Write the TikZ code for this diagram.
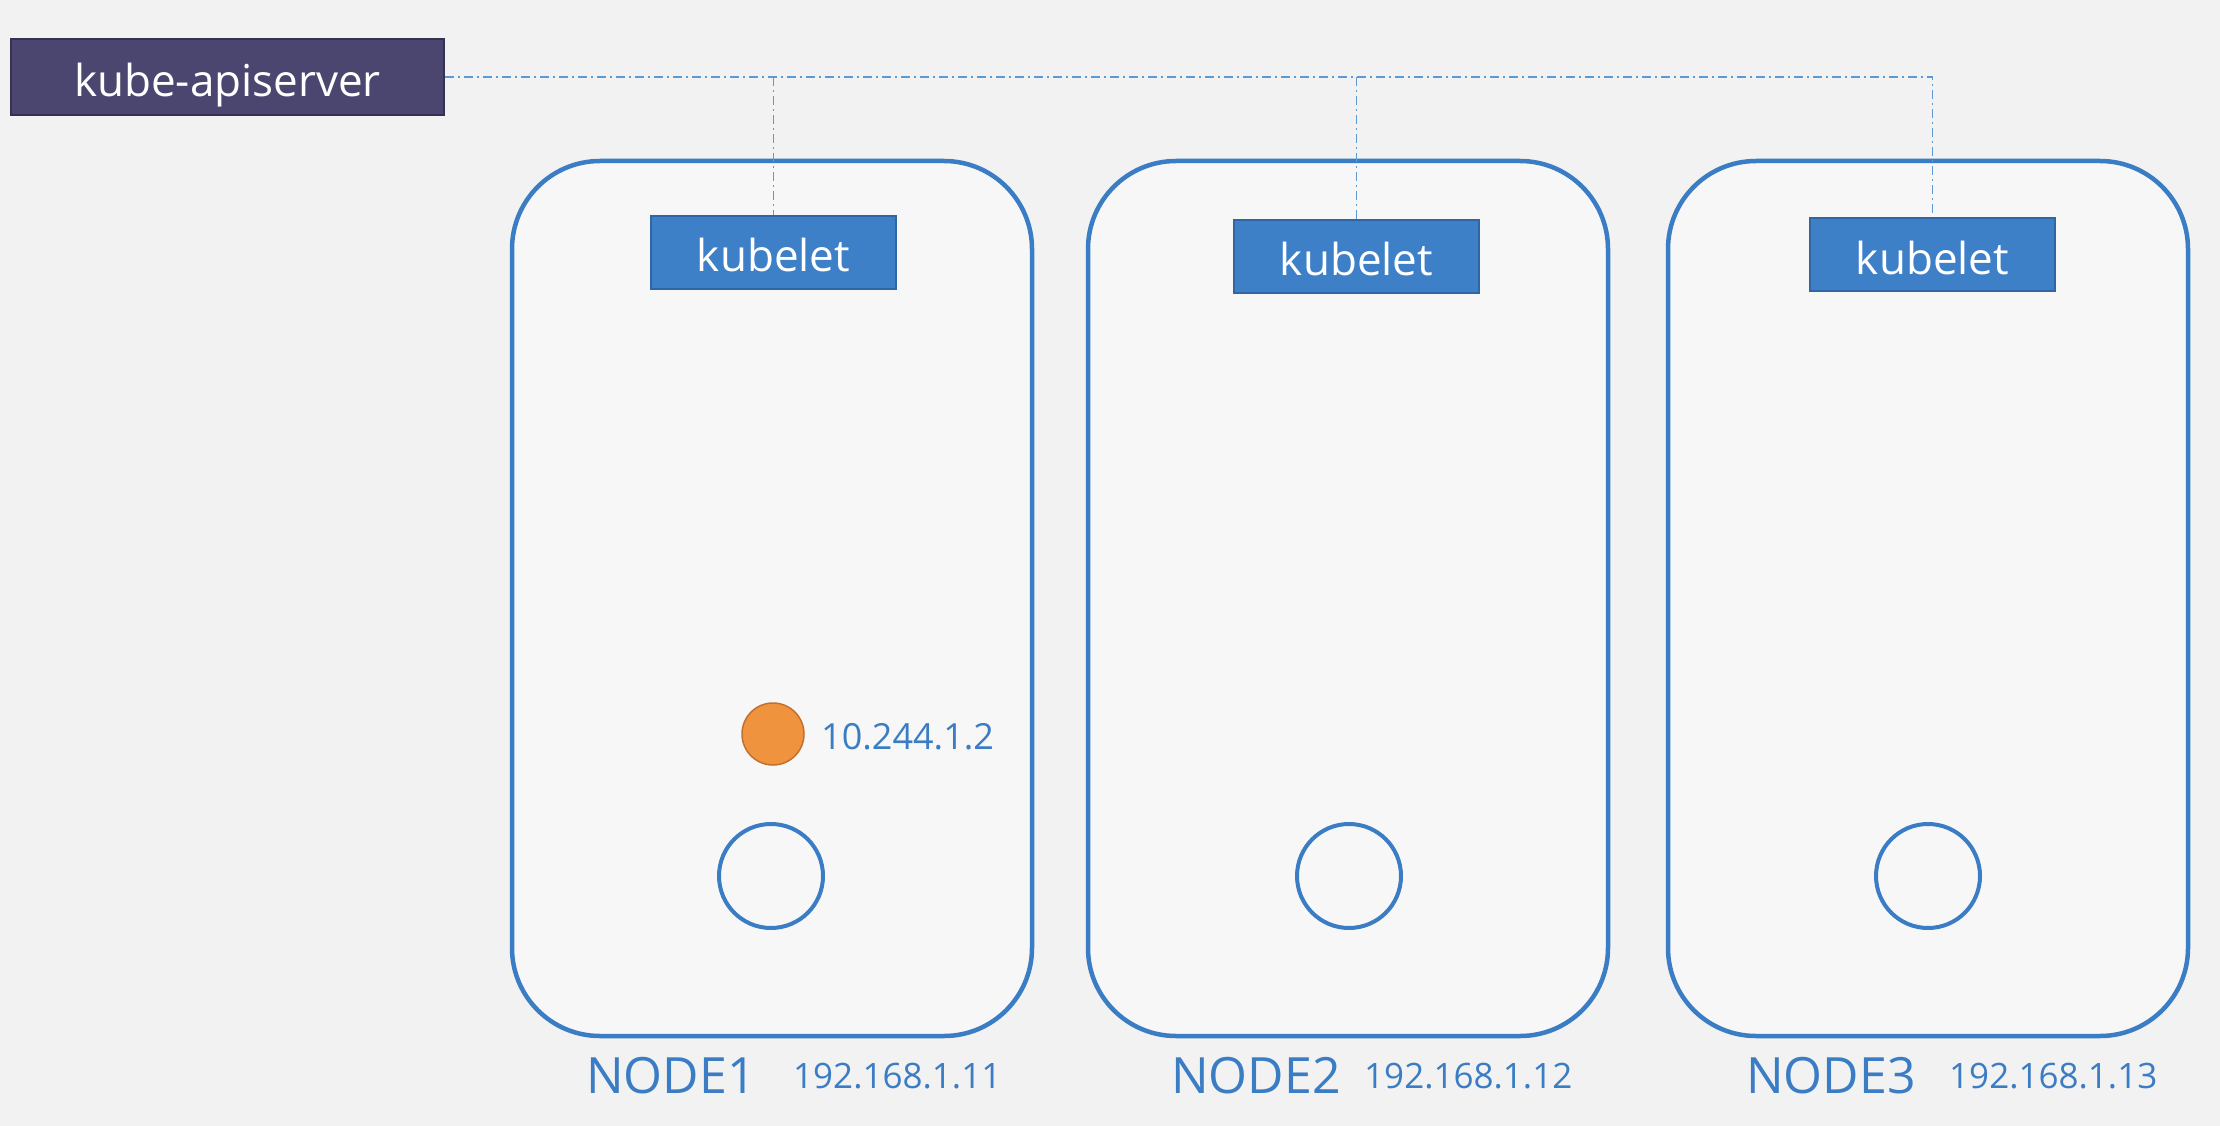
\documentclass[tikz,border=0pt]{standalone}
\usepackage{fontspec}
\setmainfont{Open Sans}
\definecolor{bg}{HTML}{F2F2F2}
\definecolor{inner}{HTML}{F7F7F7}
\definecolor{kblue}{HTML}{3B7DC4}
\definecolor{kfill}{HTML}{3D80C8}
\definecolor{kedge}{HTML}{2F66A3}
\definecolor{apifill}{HTML}{4A4670}
\definecolor{apiedge}{HTML}{35324F}
\definecolor{linkblue}{HTML}{5B9BD5}
\definecolor{podfill}{HTML}{F0933F}
\definecolor{podedge}{HTML}{C2702E}
\tikzset{
  hostbox/.style={draw=kblue, line width=4.5pt, fill=inner, rounded corners=88pt,
    minimum width=520pt, minimum height=875pt, inner sep=0pt},
  kubeletbox/.style={draw=kedge, line width=2pt, fill=kfill, text=white,
    minimum width=245pt, minimum height=73pt, inner sep=0pt,
    text height=39pt, text depth=0pt,
    font=\fontsize{44}{44}\selectfont},
  apibox/.style={draw=apiedge, line width=2pt, fill=apifill, text=white,
    minimum width=433pt, minimum height=76pt, inner sep=0pt,
    text height=40pt, text depth=0pt,
    font=\fontsize{44}{44}\selectfont},
  link/.style={draw=linkblue, line width=1.6pt, dash pattern=on 9pt off 4pt on 2pt off 4pt},
  podcircle/.style={circle, draw=kblue, line width=4pt, minimum size=104pt, inner sep=0pt},
  poddot/.style={circle, draw=podedge, line width=1.5pt, fill=podfill, minimum size=62pt, inner sep=0pt},
  hostname/.style={anchor=base west, inner sep=0pt, text=kblue, font=\fontsize{50}{50}\selectfont},
  ipaddr/.style={anchor=base west, inner sep=0pt, text=kblue, font=\fontsize{35}{35}\selectfont},
}
\begin{document}
\begin{tikzpicture}[x=1pt,y=-1pt]
\fill[bg] (0,0) rectangle (2220,1126);
\useasboundingbox (0,0) rectangle (2220,1126);

\node[hostbox] (n1) at (772,598.5) {};
\node[hostbox] (n2) at (1348,598.5) {};
\node[hostbox] (n3) at (1928,598.5) {};

\node[apibox] (api) at (227.5,77) {kube-apiserver};

\node[kubeletbox] (k1) at (773.5,252.5) {kubelet};
\node[kubeletbox] (k2) at (1356.5,256.5) {kubelet};
\node[kubeletbox] (k3) at (1932.5,254.5) {kubelet};

\coordinate (j1) at (k1.north |- api.east);
\coordinate (j2) at (k2.north |- api.east);
\coordinate (j3) at (k3.north |- api.east);
\draw[link] (api.east) -- (j3) -- (k3.north);
\draw[link] (j1) -- (k1.north);
\draw[link] (j2) -- (k2.north);

\node[poddot] (pod) at (773,734) {};
\node[anchor=base west, inner sep=0pt, text=kblue, font=\fontsize{36}{36}\selectfont] (podip) at (821,749) {10.244.1.2};

\node[podcircle] (c1) at (771,876) {};
\node[podcircle] (c2) at (1349,876) {};
\node[podcircle] (c3) at (1928,876) {};

\node[hostname] (l1) at (586,1093) {NODE1};
\node[ipaddr] (ip1) at (793,1088) {192.168.1.11};
\node[hostname] (l2) at (1171,1093) {NODE2};
\node[ipaddr] (ip2) at (1364,1088) {192.168.1.12};
\node[hostname] (l3) at (1746,1093) {NODE3};
\node[ipaddr] (ip3) at (1949,1088) {192.168.1.13};
\end{tikzpicture}
\end{document}
